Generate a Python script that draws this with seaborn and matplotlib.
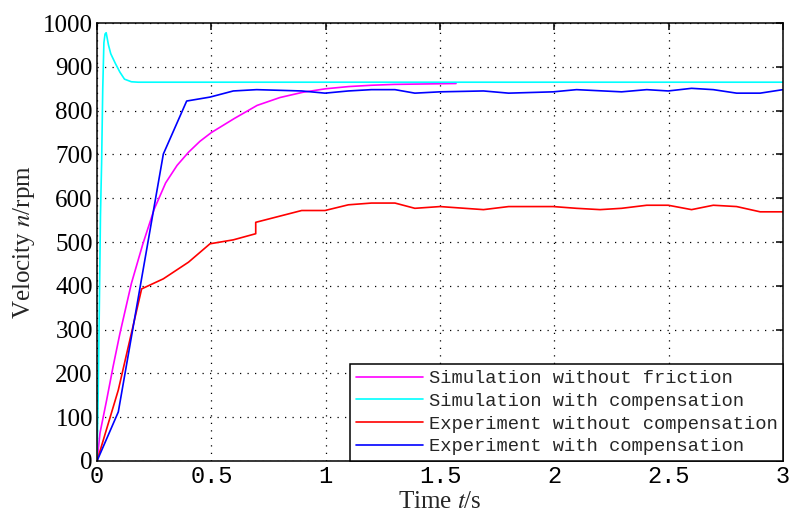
import pandas as pd
import matplotlib
matplotlib.use("Agg")
import matplotlib.pyplot as plt
import seaborn as sns

# Velocity response curves (t in s, n in rpm)
sim_nofric_t = [0, 0.013, 0.042, 0.07, 0.1, 0.15, 0.2, 0.25, 0.3, 0.35, 0.4, 0.45,
                0.5, 0.6, 0.7, 0.8, 0.9, 1.0, 1.1, 1.2, 1.3, 1.57]
sim_nofric_v = [0, 64, 139, 215, 291, 405, 495, 575, 635, 675, 705, 730,
                750, 782, 812, 830, 842, 850, 855, 858, 860, 862]

sim_comp_t = [0, 0.005, 0.01, 0.015, 0.02, 0.025, 0.03, 0.035, 0.04, 0.05, 0.06, 0.08,
              0.1, 0.12, 0.15, 0.18, 3.0]
sim_comp_v = [0, 150, 350, 560, 680, 850, 955, 975, 978, 950, 930, 908,
              888, 872, 866, 865, 865]

exp_nocomp_t = [0, 0.093, 0.195, 0.29, 0.4, 0.494, 0.596, 0.694, 0.694, 0.895, 0.997, 1.099,
                1.2, 1.303, 1.39, 1.5, 1.69, 1.8, 1.995, 2.097, 2.2, 2.294, 2.404, 2.498,
                2.6, 2.695, 2.797, 2.9, 3.0]
exp_nocomp_v = [0, 162, 393, 416, 454, 496, 505, 519, 545, 572, 572, 585,
                589, 589, 577, 581, 574, 581, 581, 577, 574, 577, 584, 584,
                574, 584, 581, 569, 569]

exp_comp_t = [0, 0.093, 0.29, 0.392, 0.494, 0.596, 0.698, 0.895, 0.997, 1.099, 1.2, 1.303,
              1.39, 1.5, 1.69, 1.8, 1.995, 2.097, 2.294, 2.404, 2.498, 2.6, 2.695, 2.797,
              2.9, 3.0]
exp_comp_v = [0, 112, 701, 822, 831, 845, 848, 845, 840, 845, 848, 848,
              840, 843, 845, 840, 843, 848, 843, 848, 845, 851, 848, 840,
              840, 848]

labels = ["Simulation without friction", "Simulation with compensation",
          "Experiment without compensation", "Experiment with compensation"]
colors = ["#ff00ff", "#00ffff", "#ff0000", "#0000ff"]
series = [(sim_nofric_t, sim_nofric_v), (sim_comp_t, sim_comp_v),
          (exp_nocomp_t, exp_nocomp_v), (exp_comp_t, exp_comp_v)]

x_ticks = [0, 0.5, 1, 1.5, 2, 2.5, 3]
x_ticklabels = ["0", "0.5", "1", "1.5", "2", "2.5", "3"]
y_ticks = list(range(0, 1001, 100))

sns.set_style("white")
plt.rcParams["font.family"] = ["Liberation Serif", "DejaVu Serif"]
plt.rcParams["mathtext.fontset"] = "stix"

fig = plt.figure(figsize=(7.96, 5.13), dpi=100)
ax = fig.add_axes([0.1219, 0.1014, 0.8618, 0.8536])

for (t, v), lab, col in zip(series, labels, colors):
    df = pd.DataFrame({"t": t, "v": v})
    sns.lineplot(data=df, x="t", y="v", ax=ax, color=col, label=lab,
                 estimator=None, sort=False, linewidth=1.2)

ax.set_xlim(0, 3)
ax.set_ylim(0, 1000)
ax.set_xticks(x_ticks)
ax.set_xticklabels(x_ticklabels, family="Liberation Mono", fontsize=17)
ax.set_yticks(y_ticks)
ax.set_yticklabels([str(y) for y in y_ticks], fontsize=18)
ax.tick_params(direction="in", top=True, right=True, length=5, width=1.1,
               pad=3, colors="black")

ax.grid(True, color="black", linestyle=(0, (1, 5)), linewidth=0.9)
for s in ax.spines.values():
    s.set_color("black")
    s.set_linewidth(1.1)

ax.set_xlabel(r"Time $\it{t}$/s", fontsize=18, labelpad=2)
ax.set_ylabel(r"Velocity $\it{n}$/rpm", fontsize=18, labelpad=4)

leg = ax.legend(loc="lower right", borderaxespad=0, prop={"family": "Liberation Mono", "size": 13.5},
                handlelength=3.6, handletextpad=0.3, labelspacing=0.3, borderpad=0.3,
                fancybox=False, framealpha=1, edgecolor="black")
leg.get_frame().set_linewidth(1.1)

fig.savefig("out.png", dpi=100)
